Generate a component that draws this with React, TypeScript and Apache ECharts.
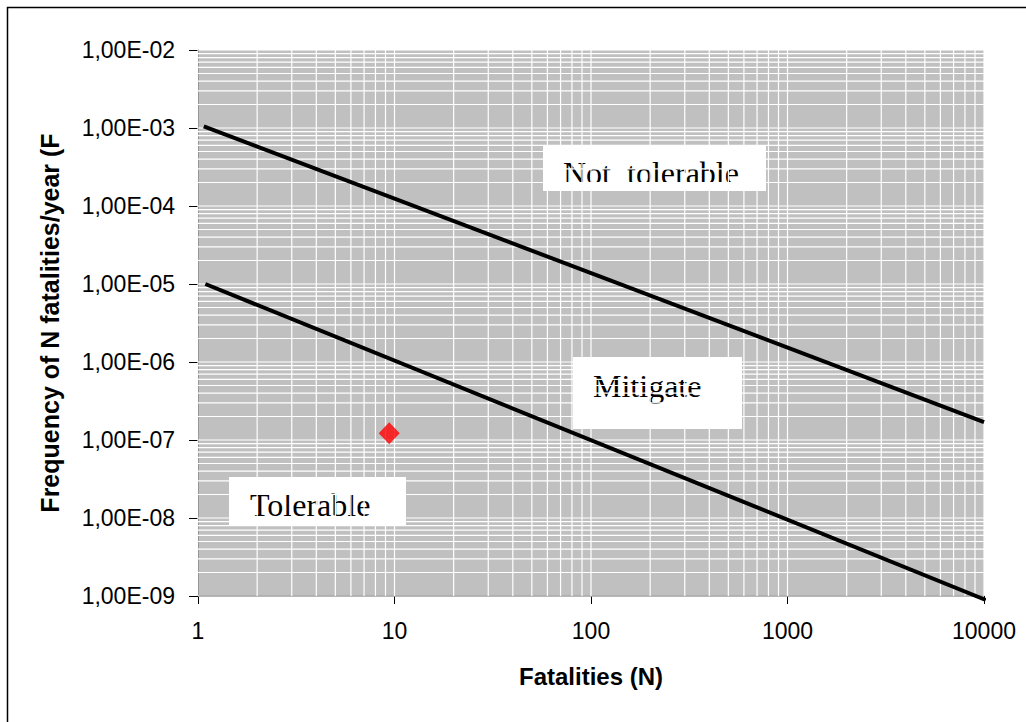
import React, { useEffect, useRef } from "react";
import * as echarts from "echarts";

// ---- data ----
const upperLine: [number, number][] = [
  [1.07, 1.05e-3],
  [10000, 1.7e-7],
];
const lowerLine: [number, number][] = [
  [1.09, 1.0e-5],
  [10200, 8.9e-10],
];
const riskPoint: [number, number][] = [[9.4, 1.22e-7]];

const xMin = 1;
const xMax = 10000;
const yMin = 1e-9;
const yMax = 1e-2;

const xDecades = [1, 10, 100, 1000];
const yDecades = [1e-9, 1e-8, 1e-7, 1e-6, 1e-5, 1e-4, 1e-3];
const gridMultipliers = [1, 2, 3, 4, 5, 6, 7, 8, 9];

const xGrid: number[] = [...xDecades.flatMap((d) => gridMultipliers.map((m) => m * d)), xMax];
const yGrid: number[] = [...yDecades.flatMap((d) => gridMultipliers.map((m) => m * d)), yMax];

const FONT_SANS = "'Liberation Sans', Arial, sans-serif";
const FONT_SERIF = "'Liberation Serif', 'Times New Roman', serif";

function fmtY(v: number): string {
  const e = Math.round(Math.log10(v));
  const m = v / Math.pow(10, e);
  return (
    m.toFixed(2).replace(".", ",") +
    "E" +
    (e < 0 ? "-" : "+") +
    String(Math.abs(e)).padStart(2, "0")
  );
}

function labelBox(x: number, y: number, w: number, h: number, text: string, tx: number, ty: number, cut?: number) {
  const children: any[] = [
    { type: "rect", shape: { x, y, width: w, height: h }, style: { fill: "#ffffff" } },
    {
      type: "text",
      x: tx,
      y: ty,
      style: {
        text,
        fill: "#000",
        font: `32px ${FONT_SERIF}`,
        align: "left",
        verticalAlign: "middle",
      },
    },
  ];
  if (cut !== undefined) {
    children.push({
      type: "rect",
      shape: { x: x + 2, y: cut, width: w - 4, height: y + h - cut },
      style: { fill: "#ffffff" },
    });
  }
  return { type: "group", children };
}

export default function App() {
  const ref = useRef<HTMLDivElement>(null);

  useEffect(() => {
    document.body.style.margin = "0";
    if (!ref.current) return;
    const chart = echarts.init(ref.current, undefined, { renderer: "svg" });

    const gridData: any[] = [
      ...xGrid.map((v) => [v, 1e-5, 0]),
      ...yGrid.map((v) => [10, v, 1]),
    ];

    chart.setOption({
      animation: false,
      backgroundColor: "#ffffff",
      grid: {
        left: 198,
        top: 50,
        right: 42,
        bottom: 126,
        show: true,
        backgroundColor: "#c0c0c0",
        borderWidth: 0,
      },
      xAxis: {
        type: "log",
        logBase: 10,
        min: xMin,
        max: xMax,
        splitNumber: 4,
        name: "Fatalities (N)",
        nameLocation: "middle",
        nameGap: 68,
        nameTextStyle: { fontFamily: FONT_SANS, fontWeight: "bold", fontSize: 24, color: "#000" },
        axisLine: { show: true, onZero: false, lineStyle: { color: "#404040", width: 1.5 } },
        axisTick: { show: true, inside: false, length: 8, lineStyle: { color: "#000" } },
        axisLabel: {
          fontFamily: FONT_SANS,
          fontSize: 23,
          color: "#000",
          margin: 23,
          formatter: (v: number) => String(Math.round(v)),
        },
        splitLine: { show: false },
        minorTick: { show: false },
      },
      yAxis: {
        type: "log",
        logBase: 10,
        min: yMin,
        max: yMax,
        splitNumber: 7,
        name: "Frequency of N fatalities/year (F",
        nameLocation: "middle",
        nameGap: 136,
        nameRotate: 90,
        nameTextStyle: { fontFamily: FONT_SANS, fontWeight: "bold", fontSize: 25, color: "#000" },
        axisLine: { show: true, lineStyle: { color: "#000", width: 1 } },
        axisTick: { show: true, inside: false, length: 9, lineStyle: { color: "#000" } },
        axisLabel: {
          fontFamily: FONT_SANS,
          fontSize: 23,
          color: "#000",
          margin: 23,
          formatter: (v: number) => fmtY(v),
        },
        splitLine: { show: false },
      },
      series: [
        {
          type: "custom",
          z: 1,
          silent: true,
          data: gridData,
          renderItem: (params: any, api: any) => {
            const cs = params.coordSys;
            const p = api.coord([api.value(0), api.value(1)]);
            const vertical = api.value(2) === 0;
            const shape = vertical
              ? { x1: p[0], y1: cs.y, x2: p[0], y2: cs.y + cs.height }
              : { x1: cs.x, y1: p[1], x2: cs.x + cs.width, y2: p[1] };
            return {
              type: "line",
              shape,
              style: { stroke: "#ffffff", lineWidth: 1.2 },
            };
          },
        },
        {
          type: "line",
          z: 3,
          data: upperLine,
          showSymbol: false,
          symbol: "none",
          clip: false,
          lineStyle: { color: "#000", width: 4 },
        },
        {
          type: "line",
          z: 3,
          data: lowerLine,
          showSymbol: false,
          symbol: "none",
          clip: false,
          lineStyle: { color: "#000", width: 4 },
        },
        {
          type: "scatter",
          z: 4,
          data: riskPoint,
          symbol: "diamond",
          symbolSize: [21, 22],
          itemStyle: { color: "#ff0000" },
        },
      ],
      graphic: [
        {
          type: "rect",
          shape: { x: 7.5, y: 7.5, width: 1040, height: 740 },
          style: { fill: "none", stroke: "#000", lineWidth: 1.5 },
          z: 10,
        },
        labelBox(543, 146, 223, 45, "Not  tolerable", 563, 172.5, 182),
        labelBox(573, 357, 169, 72, "Mitigate", 593, 386),
        labelBox(229, 477, 177, 49, "Tolerable", 250, 504.5),
      ],
    });

    return () => chart.dispose();
  }, []);

  return <div ref={ref} style={{ width: 1026, height: 722 }} />;
}
